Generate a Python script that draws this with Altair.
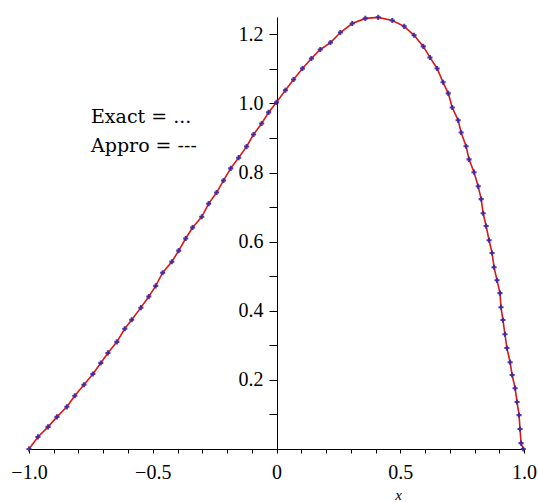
import altair as alt
import pandas as pd

# Sampled curve: x positions and function values
xs = [-1.0, -0.964, -0.923, -0.887, -0.847, -0.815, -0.778, -0.742, -0.710, -0.681,
      -0.645, -0.613, -0.585, -0.548, -0.516, -0.488, -0.460, -0.423, -0.395, -0.367,
      -0.339, -0.302, -0.274, -0.242, -0.214, -0.185, -0.153, -0.121, -0.093, -0.060,
      -0.032, 0.000, 0.036, 0.069, 0.105, 0.141, 0.177, 0.218, 0.258, 0.306,
      0.359, 0.411, 0.468, 0.516, 0.556, 0.593, 0.620, 0.649, 0.673, 0.694,
      0.710, 0.734, 0.746, 0.766, 0.778, 0.798, 0.815, 0.827, 0.835, 0.847,
      0.859, 0.871, 0.879, 0.891, 0.903, 0.907, 0.915, 0.923, 0.931, 0.944,
      0.952, 0.964, 0.972, 0.980, 0.984, 0.988, 0.997]
ys = [0.000, 0.035, 0.064, 0.093, 0.122, 0.154, 0.186, 0.217, 0.249, 0.278,
      0.310, 0.348, 0.374, 0.409, 0.441, 0.472, 0.510, 0.542, 0.574, 0.609,
      0.641, 0.672, 0.710, 0.742, 0.777, 0.812, 0.843, 0.875, 0.910, 0.942,
      0.974, 1.003, 1.038, 1.069, 1.101, 1.130, 1.156, 1.176, 1.205, 1.231,
      1.246, 1.249, 1.240, 1.223, 1.197, 1.165, 1.133, 1.101, 1.061, 1.029,
      0.988, 0.951, 0.916, 0.876, 0.838, 0.801, 0.760, 0.723, 0.682, 0.645,
      0.604, 0.567, 0.526, 0.488, 0.451, 0.410, 0.373, 0.332, 0.292, 0.251,
      0.214, 0.176, 0.136, 0.098, 0.058, 0.017, 0.000]

x_ticks = [-1.0, -0.9, -0.8, -0.7, -0.6, -0.5, -0.4, -0.3, -0.2, -0.1,
           0.0, 0.1, 0.2, 0.3, 0.4, 0.5, 0.6, 0.7, 0.8, 0.9, 1.0]
y_ticks = [0.1, 0.2, 0.3, 0.4, 0.5, 0.6, 0.7, 0.8, 0.9, 1.0, 1.1, 1.2]

legend_lines = ["Exact = ...", "Appro = ---"]

curve = pd.DataFrame({"x": xs, "y": ys})

x_label_expr = ("datum.value == -1 ? '\u22121.0' : datum.value == -0.5 ? '\u22120.5' : "
                "datum.value == 0 ? '0' : datum.value == 0.5 ? '0.5' : "
                "datum.value == 1 ? '1.0' : ''")
y_label_expr = ("datum.value == 0.2 ? '0.2' : datum.value == 0.4 ? '0.4' : "
                "datum.value == 0.6 ? '0.6' : datum.value == 0.8 ? '0.8' : "
                "datum.value == 1 ? '1.0' : datum.value == 1.2 ? '1.2' : ''")

x_enc = alt.X(
    "x:Q",
    scale=alt.Scale(domain=[-1, 1], nice=False, zero=False),
    axis=alt.Axis(
        values=x_ticks, labelExpr=x_label_expr, grid=False,
        tickSize=4, tickColor="black", domainColor="black",
        labelFont="Liberation Serif", labelFontSize=20, labelColor="black",
        labelPadding=9, labelFlush=False, labelBound=False, labelOverlap=False,
        title="x", titleFont="Liberation Serif", titleFontStyle="italic",
        titleFontWeight="normal", titleFontSize=15, titleColor="black",
        titleX=369, titleY=50, titleBaseline="alphabetic", titleAlign="center",
    ),
)
y_enc = alt.Y(
    "y:Q",
    scale=alt.Scale(domain=[0, 1.25], nice=False),
    axis=alt.Axis(
        values=y_ticks, labelExpr=y_label_expr, grid=False, offset=-248,
        tickSize=8, tickColor="black", domainColor="black",
        labelFont="Liberation Serif", labelFontSize=20, labelColor="black",
        labelPadding=6, labelOverlap=False, labelBound=False, title=None,
    ),
)

line = alt.Chart(curve).mark_line(color="#d81818", strokeWidth=1.6).encode(
    x=x_enc, y=y_enc
)
points = alt.Chart(curve).mark_point(
    shape="cross", filled=True, size=26, color="#3b25a0", opacity=0.9
).encode(x=x_enc, y=y_enc)

legend_df = pd.DataFrame({"label": legend_lines, "row": [0, 1]})
legend = alt.Chart(legend_df).mark_text(
    align="left", baseline="alphabetic", font="DejaVu Serif", fontSize=19,
    color="black"
).encode(
    x=alt.value(62),
    y=alt.YValue(alt.expr("106 + datum.row * 29")),
    text="label:N",
)

chart = alt.layer(line, points, legend).properties(
    width=495,
    height=432,
    padding={"left": 29, "top": 17, "right": 14, "bottom": 53},
    autosize=alt.AutoSizeParams(type="none"),
).configure_view(stroke=None)

chart.save("out.html", embed_options={"renderer": "svg", "actions": False})
